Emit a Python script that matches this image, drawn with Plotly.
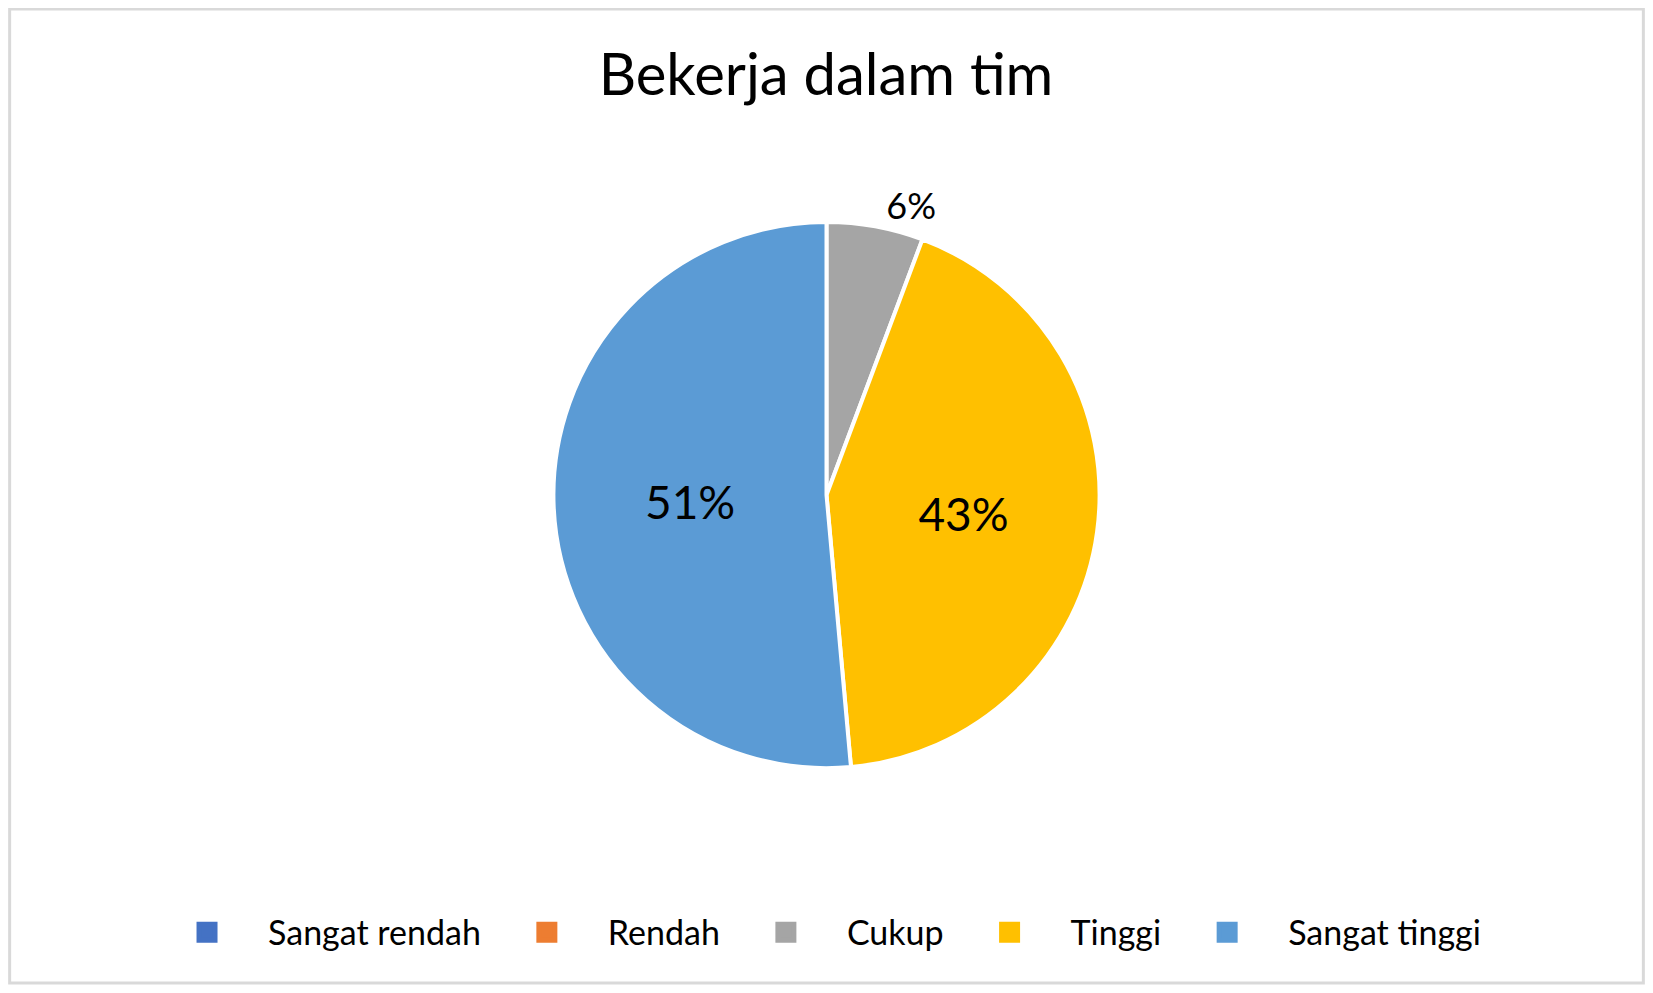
import plotly.graph_objects as go

kategori = ["Sangat rendah", "Rendah", "Cukup", "Tinggi", "Sangat tinggi"]
jumlah = [0, 0, 2, 15, 18]
warna = ["#4472C4", "#ED7D31", "#A5A5A5", "#FFC000", "#5B9BD5"]
posisi_teks = ["inside", "inside", "outside", "inside", "inside"]
ukuran_teks = [46, 46, 36, 46, 46]

# page body keeps an 8px margin, so the figure is sized to fit inside it
W, H = 1637, 977

fig = go.Figure()
fig.add_trace(go.Pie(
    labels=kategori,
    values=jumlah,
    sort=False,
    direction="clockwise",
    rotation=0,
    marker=dict(colors=warna, line=dict(color="white", width=4)),
    texttemplate="%{percent:.0%}",
    textposition=posisi_teks,
    textfont=dict(family="Lato", size=ukuran_teks, color="black"),
    insidetextorientation="horizontal",
    hoverinfo="label+value+percent",
    showlegend=False,
    domain=dict(x=[0.15, 0.85], y=[0.222, 0.781]),
))

# legend entries (square swatches) built from the same categories
for nama, c in zip(kategori, warna):
    fig.add_trace(go.Scatter(
        x=[None], y=[None], mode="markers", name=nama,
        marker=dict(symbol="square", size=16, color=c, line=dict(color=c, width=5)),
        hoverinfo="skip",
    ))

fig.update_layout(
    width=W,
    height=H,
    margin=dict(l=0, r=0, t=0, b=0, autoexpand=False),
    paper_bgcolor="white",
    plot_bgcolor="white",
    font=dict(family="Lato", color="black"),
    xaxis=dict(visible=False),
    yaxis=dict(visible=False),
    title=dict(text="Bekerja dalam tim", x=0.4997, xanchor="center",
               y=0.932, yanchor="middle",
               font=dict(family="Lato", size=58, color="black")),
    legend=dict(orientation="h", x=0.4936, xanchor="center",
                y=0.0536, yanchor="middle",
                font=dict(family="Lato", size=34, color="black"),
                itemwidth=112, traceorder="normal"),
    shapes=[dict(type="rect", xref="paper", yref="paper",
                 x0=0.001, x1=0.999, y0=0.002, y1=0.999,
                 line=dict(color="#d9d9d9", width=3))],
)

fig.write_html("out.html")
